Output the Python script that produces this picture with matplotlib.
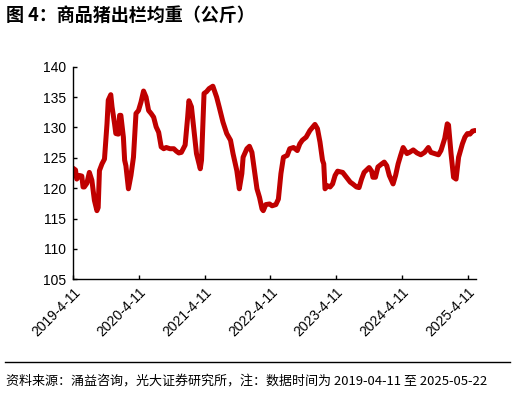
"""
Average slaughter weight of commercial hogs, weekly 2019-04-11 .. 2025-05-22.
"""
import numpy as np
import pandas as pd
import matplotlib
matplotlib.use("Agg")
import matplotlib.pyplot as plt

plt.rcParams["font.family"] = ["Liberation Sans", "Noto Sans CJK SC", "DejaVu Sans"]

start_date = "2019-04-11"
# week offsets from start_date and values (kg)
weeks = [0, 2, 3, 5, 7, 8, 9, 11, 13, 15, 17, 19, 20, 21, 23, 25, 27, 28, 30, 31,
         33, 34, 36, 37, 38, 40, 41, 42, 44, 46, 48, 50, 52, 54, 56, 58, 60, 62, 64, 66,
         68, 70, 72, 74, 77, 80, 82, 84, 86, 89, 91, 92, 94, 96, 98, 101, 102, 104, 106, 108,
         111, 114, 116, 119, 122, 125, 127, 130, 132, 134, 135, 138, 140, 142, 144, 146, 148, 150, 151, 153,
         156, 158, 161, 163, 165, 167, 170, 172, 175, 178, 180, 182, 185, 188, 192, 194, 196, 198, 199, 200,
         202, 204, 206, 208, 210, 214, 217, 220, 222, 225, 227, 229, 231, 235, 237, 238, 240, 242, 245, 247,
         249, 251, 254, 256, 258, 260, 262, 265, 267, 270, 273, 276, 279, 282, 284, 287, 290, 292, 295, 297,
         298, 300, 302, 304, 306, 309, 311, 313, 315, 317, 319]
weights = [123.3, 123.0, 121.5, 122.1, 122.0, 120.2, 120.2, 120.8, 122.6, 121.3, 118.0, 116.3, 116.8, 122.9, 124.0, 124.8, 130.6, 134.5, 135.4, 133.4,
           130.6, 129.0, 128.9, 132.0, 132.0, 128.4, 124.6, 123.7, 119.9, 122.1, 125.1, 132.3, 132.8, 134.2, 136.0, 135.0, 132.8, 132.3, 131.7, 130.1,
           129.2, 126.8, 126.5, 126.7, 126.5, 126.5, 126.1, 125.8, 125.9, 127.1, 131.7, 134.4, 133.4, 129.5, 125.7, 123.2, 124.6, 135.6, 135.9, 136.4,
           136.8, 135.0, 133.4, 130.9, 129.0, 127.9, 125.7, 122.9, 119.9, 122.4, 125.1, 126.5, 126.9, 125.9, 122.9, 119.9, 118.5, 116.6, 116.3, 117.3,
           117.4, 117.1, 117.3, 118.2, 122.4, 125.1, 125.4, 126.5, 126.7, 126.2, 127.3, 127.9, 128.4, 129.5, 130.5, 129.8, 127.6, 124.6, 124.0, 119.9,
           120.4, 120.2, 120.7, 122.1, 122.8, 122.6, 121.8, 121.0, 120.7, 120.2, 120.1, 121.5, 122.6, 123.4, 122.8, 121.8, 121.8, 123.5, 124.0, 124.3,
           123.7, 122.1, 120.7, 122.1, 124.0, 125.4, 126.7, 125.7, 125.9, 126.3, 125.8, 125.5, 125.9, 126.7, 125.9, 125.7, 125.5, 126.2, 128.2, 130.6,
           130.4, 125.7, 121.8, 121.5, 125.1, 127.3, 128.4, 129.0, 128.9, 129.4, 129.5]
tick_dates = ["2019-04-11", "2020-04-11", "2021-04-11", "2022-04-11",
              "2023-04-11", "2024-04-11", "2025-04-11"]
tick_labels = ["2019-4-11", "2020-4-11", "2021-4-11", "2022-4-11",
               "2023-4-11", "2024-4-11", "2025-4-11"]

dates = pd.Timestamp(start_date) + pd.to_timedelta(np.array(weeks) * 7, unit="D")

fig = plt.figure(figsize=(5.15, 3.95), dpi=100)
ax = fig.add_axes([0.1417, 0.293, 0.782, 0.538])
ax.plot(dates, weights, color="#C00000", linewidth=3.6, solid_joinstyle="round",
        solid_capstyle="round")

ax.set_ylim(105, 140)
ax.set_yticks(np.arange(105, 141, 5))
ax.set_xlim(pd.Timestamp(start_date), pd.Timestamp("2025-05-26"))
ax.set_xticks(pd.to_datetime(tick_dates))
ax.set_xticklabels(tick_labels, rotation=45, ha="right", va="top",
                   rotation_mode="anchor")
for side in ("top", "right"):
    ax.spines[side].set_visible(False)
for side in ("left", "bottom"):
    ax.spines[side].set_linewidth(1.0)
ax.tick_params(direction="in", length=3, width=1, labelsize=10, pad=5)
ax.tick_params(axis="x", pad=4)

fig.text(0.012, 0.962, "图 4：商品猪出栏均重（公斤）", fontsize=13, fontweight="bold",
         family=["Noto Sans CJK SC"], va="center", ha="left")
fig.add_artist(plt.Line2D([0.01, 0.99], [0.083, 0.083], color="black",
                          linewidth=1.0, transform=fig.transFigure))
fig.text(0.012, 0.035, "资料来源：涌益咨询，光大证券研究所，注：数据时间为 2019-04-11 至 2025-05-22",
         fontsize=9.4, family=["Noto Sans CJK SC"], va="center", ha="left")

fig.savefig("out.png", dpi=100)
